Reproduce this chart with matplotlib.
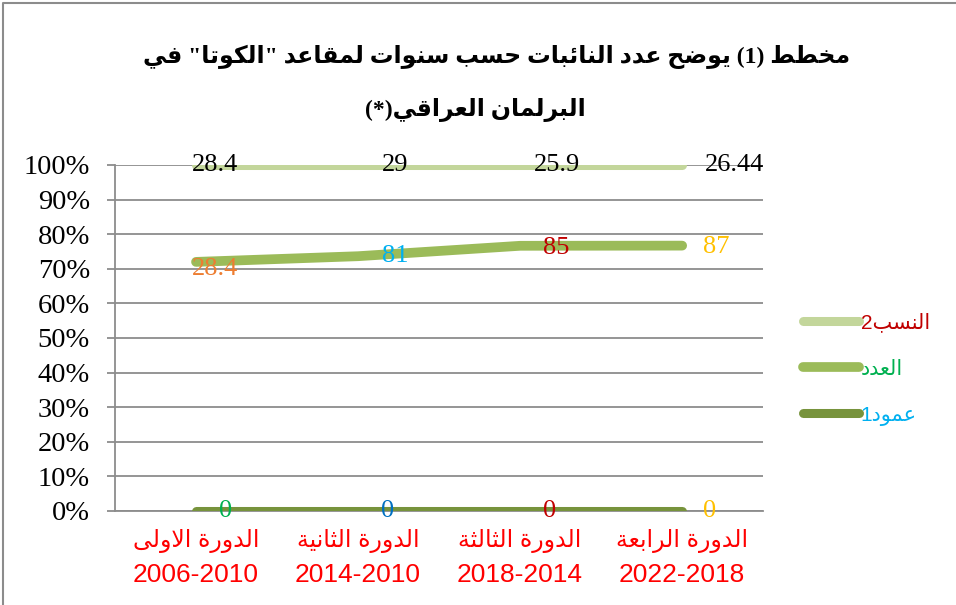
import re
import numpy as np
import matplotlib
matplotlib.use('Agg')
import matplotlib.pyplot as plt
from matplotlib.lines import Line2D

# ---- data ----
categories = ['الدورة الاولى', 'الدورة الثانية', 'الدورة الثالثة', 'الدورة الرابعة']
periods = ['2006-2010', '2014-2010', '2018-2014', '2022-2018']
col1 = np.array([0, 0, 0, 0])                      # عمود1
counts = np.array([73, 81, 85, 87])                # العدد
ratios = np.array([28.4, 29, 25.9, 26.44])         # النسب2
count_labels = ['28.4', '81', '85', '87']          # labels as shown in the chart
title_lines = ['مخطط (1) يوضح عدد النائبات حسب سنوات لمقاعد "الكوتا" في',
               'البرلمان العراقي(*)']

# ---- very small arabic shaper (matplotlib has no complex text layout) ----
AR = {
    'ء': (0xFE80, None, None, None), 'آ': (0xFE81, 0xFE82, None, None),
    'أ': (0xFE83, 0xFE84, None, None), 'ؤ': (0xFE85, 0xFE86, None, None),
    'إ': (0xFE87, 0xFE88, None, None), 'ئ': (0xFE89, 0xFE8A, 0xFE8B, 0xFE8C),
    'ا': (0xFE8D, 0xFE8E, None, None), 'ب': (0xFE8F, 0xFE90, 0xFE91, 0xFE92),
    'ة': (0xFE93, 0xFE94, None, None), 'ت': (0xFE95, 0xFE96, 0xFE97, 0xFE98),
    'ث': (0xFE99, 0xFE9A, 0xFE9B, 0xFE9C), 'ج': (0xFE9D, 0xFE9E, 0xFE9F, 0xFEA0),
    'ح': (0xFEA1, 0xFEA2, 0xFEA3, 0xFEA4), 'خ': (0xFEA5, 0xFEA6, 0xFEA7, 0xFEA8),
    'د': (0xFEA9, 0xFEAA, None, None), 'ذ': (0xFEAB, 0xFEAC, None, None),
    'ر': (0xFEAD, 0xFEAE, None, None), 'ز': (0xFEAF, 0xFEB0, None, None),
    'س': (0xFEB1, 0xFEB2, 0xFEB3, 0xFEB4), 'ش': (0xFEB5, 0xFEB6, 0xFEB7, 0xFEB8),
    'ص': (0xFEB9, 0xFEBA, 0xFEBB, 0xFEBC), 'ض': (0xFEBD, 0xFEBE, 0xFEBF, 0xFEC0),
    'ط': (0xFEC1, 0xFEC2, 0xFEC3, 0xFEC4), 'ظ': (0xFEC5, 0xFEC6, 0xFEC7, 0xFEC8),
    'ع': (0xFEC9, 0xFECA, 0xFECB, 0xFECC), 'غ': (0xFECD, 0xFECE, 0xFECF, 0xFED0),
    'ف': (0xFED1, 0xFED2, 0xFED3, 0xFED4), 'ق': (0xFED5, 0xFED6, 0xFED7, 0xFED8),
    'ك': (0xFED9, 0xFEDA, 0xFEDB, 0xFEDC), 'ل': (0xFEDD, 0xFEDE, 0xFEDF, 0xFEE0),
    'م': (0xFEE1, 0xFEE2, 0xFEE3, 0xFEE4), 'ن': (0xFEE5, 0xFEE6, 0xFEE7, 0xFEE8),
    'ه': (0xFEE9, 0xFEEA, 0xFEEB, 0xFEEC), 'و': (0xFEED, 0xFEEE, None, None),
    'ى': (0xFEEF, 0xFEF0, None, None), 'ي': (0xFEF1, 0xFEF2, 0xFEF3, 0xFEF4),
}
LAMALEF = {'آ': (0xFEF5, 0xFEF6), 'أ': (0xFEF7, 0xFEF8), 'إ': (0xFEF9, 0xFEFA), 'ا': (0xFEFB, 0xFEFC)}
MIRROR = {'(': ')', ')': '(', '[': ']', ']': '['}


def shape(s):
    items = []
    i = 0
    while i < len(s):
        if s[i] == 'ل' and i + 1 < len(s) and s[i + 1] in LAMALEF:
            items.append(('LA', s[i + 1]))
            i += 2
        else:
            items.append((s[i], None))
            i += 1

    def fwd(it):
        return it[0] in AR and AR[it[0]][2] is not None

    def joining(it):
        return it[0] == 'LA' or (it[0] in AR and it[0] != 'ء')

    out = ''
    for k, it in enumerate(items):
        prev = k > 0 and fwd(items[k - 1]) and joining(it)
        if it[0] == 'LA':
            out += chr(LAMALEF[it[1]][1 if prev else 0])
            continue
        if it[0] not in AR:
            out += it[0]
            continue
        nxt = fwd(it) and k + 1 < len(items) and joining(items[k + 1])
        iso, fin, ini, med = AR[it[0]]
        if prev and nxt:
            out += chr(med)
        elif prev:
            out += chr(fin)
        elif nxt:
            out += chr(ini)
        else:
            out += chr(iso)
    return out


def ar(text):
    lines = []
    for line in text.split('\n'):
        line = shape(line)
        parts = re.split(r'([0-9A-Za-z]+(?:[.\-][0-9A-Za-z]+)*)', line)
        vis = []
        for p in reversed(parts):
            if re.fullmatch(r'[0-9A-Za-z]+(?:[.\-][0-9A-Za-z]+)*', p):
                vis.append(p)
            else:
                vis.append(''.join(MIRROR.get(c, c) for c in reversed(p)))
        lines.append(''.join(vis))
    return '\n'.join(lines)


# ---- 100% stacked shares ----
total = col1 + counts + ratios
share1 = col1 / total * 100
share2 = (col1 + counts) / total * 100
share3 = (col1 + counts + ratios) / total * 100

serif = ['Liberation Serif', 'DejaVu Sans']
sans = ['Liberation Sans', 'DejaVu Sans']

fig = plt.figure(figsize=(9.56, 6.05), dpi=100)
ax = fig.add_axes([0.1203, 0.1554, 0.678, 0.5719])

x = np.arange(len(categories))
c_light, c_mid, c_dark = '#C3D69B', '#9BBB59', '#77933C'
l1, = ax.plot(x, share1, color=c_dark, lw=6.5, solid_capstyle='round', zorder=3)
l2, = ax.plot(x, share2, color=c_mid, lw=7, solid_capstyle='round', zorder=3)
l3, = ax.plot(x, share3, color=c_light, lw=6.5, solid_capstyle='round', zorder=3)

ax.set_xlim(-0.5, 3.5)
ax.set_ylim(0, 100)
ax.set_yticks(np.arange(0, 101, 10))
ax.set_yticklabels([f'{v}%' for v in range(0, 101, 10)], family=serif, fontsize=20.5)
ax.yaxis.grid(True, color='#8C8C8C', lw=1.3)
ax.set_axisbelow(True)
ax.tick_params(axis='y', length=6, width=1.3, color='#8C8C8C', pad=12)
ax.set_xticks(x)
ax.set_xticklabels([])
ax.tick_params(axis='x', length=0)
for s in ['top', 'right']:
    ax.spines[s].set_visible(False)
for s in ['left', 'bottom']:
    ax.spines[s].set_color('#8C8C8C')
    ax.spines[s].set_linewidth(1.3)

# category labels (two lines, red)
for i in range(len(x)):
    ax.annotate(ar(categories[i]), (x[i], 0), xycoords=('data', 'axes fraction'),
                xytext=(0, -30 * 0.72), textcoords='offset points', ha='center', va='center',
                family=sans, fontsize=17, color='#FF0000')
    ax.annotate(periods[i], (x[i], 0), xycoords=('data', 'axes fraction'),
                xytext=(0, -64 * 0.72), textcoords='offset points', ha='center', va='center',
                family=sans, fontsize=19, color='#FF0000')

# data labels
px = 0.72
ratio_dx = [19, 37, 37, 52]
count_dx = [19, 37, 36, 34]
count_dy = [-7, 0, -2, -1]
zero_dx = [30, 29, 29, 27]
count_colors = ['#ED7D31', '#00B0F0', '#C00000', '#FFC000']
zero_colors = ['#00B050', '#0070C0', '#C00000', '#FFC000']
for i in range(len(x)):
    ax.annotate(f'{ratios[i]:g}', (x[i], share3[i]), xytext=(ratio_dx[i] * px, 0),
                textcoords='offset points', ha='center', va='center',
                family=serif, fontsize=19, color='black', zorder=5)
    ax.annotate(count_labels[i], (x[i], share2[i]), xytext=(count_dx[i] * px, count_dy[i] * px),
                textcoords='offset points', ha='center', va='center',
                family=serif, fontsize=19, color=count_colors[i], zorder=5)
    ax.annotate(f'{col1[i]:g}', (x[i], share1[i]), xytext=(zero_dx[i] * px, 0),
                textcoords='offset points', ha='center', va='center',
                family=serif, fontsize=19, color=zero_colors[i], zorder=5)

# legend
leg = ax.legend([l3, l2, l1], [ar('النسب2'), ar('العدد'), ar('عمود1')],
                loc='center left', bbox_to_anchor=(1.062, 0.41), frameon=False,
                borderaxespad=0, borderpad=0,
                handlelength=2.65, handletextpad=0.1, labelspacing=1.3,
                prop={'family': sans, 'size': 15})
for t, c in zip(leg.get_texts(), ['#C00000', '#00B050', '#00B0F0']):
    t.set_color(c)

# title, two centred lines
fig.text(497 / 956, 1 - 57 / 605, ar(title_lines[0]), ha='center', va='center',
         family=serif, fontsize=17, fontweight='bold')
fig.text(475 / 956, 1 - 110 / 605, ar(title_lines[1]), ha='center', va='center',
         family=serif, fontsize=17, fontweight='bold')

# outer chart border
fig.add_artist(Line2D([0.0035, 0.0035, 1.0], [0.0, 0.995, 0.995],
                      transform=fig.transFigure, color='#8C8C8C', lw=1.5))

fig.savefig('out.png', dpi=100)
